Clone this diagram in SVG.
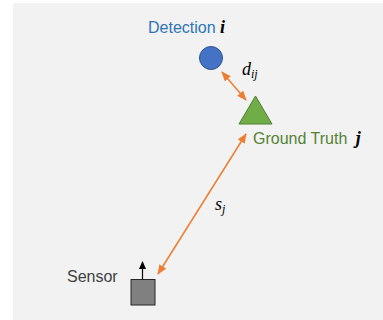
<svg xmlns="http://www.w3.org/2000/svg" width="383" height="320" viewBox="0 0 383 320">
  <style>
    .lbl { font-family: "Liberation Sans", Arial, sans-serif; font-size: 16px; }
    .math { font-family: "Liberation Serif", "Times New Roman", serif; font-style: italic; }
    .conn { stroke: #ed7d31; stroke-width: 1.5; fill: none; }
  </style>
  <defs>
    <marker id="orangeHead" markerUnits="userSpaceOnUse" markerWidth="10" markerHeight="8" refX="9" refY="4" orient="auto-start-reverse">
      <path d="M0,0 L10,4 L0,8 Z" fill="#ed7d31"/>
    </marker>
    <marker id="blackHead" markerUnits="userSpaceOnUse" markerWidth="8" markerHeight="7" refX="7" refY="3.5" orient="auto">
      <path d="M0,0 L8,3.5 L0,7 Z" fill="#000"/>
    </marker>
  </defs>

  <!-- canvas -->
  <rect x="13" y="3" width="370" height="317" fill="#f2f2f2"/>

  <!-- connectors -->
  <g id="connectors">
    <line class="conn" x1="222" y1="72" x2="246" y2="100" marker-start="url(#orangeHead)" marker-end="url(#orangeHead)"/>
    <line class="conn" x1="246" y1="134" x2="158" y2="274" marker-start="url(#orangeHead)" marker-end="url(#orangeHead)"/>
    <text class="math" x="242" y="75" font-size="18" fill="#000">d<tspan font-size="12" dy="3">ij</tspan></text>
    <text class="math" x="215" y="210" font-size="18" fill="#000">s<tspan font-size="12" dy="3">j</tspan></text>
  </g>

  <!-- detection node -->
  <g id="detection">
    <circle cx="211" cy="58" r="11.5" fill="#4472c4" stroke="#2f528f" stroke-width="1"/>
    <text class="lbl" x="148" y="33" fill="#2e75b6">Detection <tspan class="math" font-weight="bold" font-size="18" fill="#000">i</tspan></text>
  </g>

  <!-- ground truth node -->
  <g id="ground-truth">
    <polygon points="255.5,96 239,124 272,124" fill="#70ad47" stroke="#507e32" stroke-width="1"/>
    <text class="lbl" x="253" y="144" fill="#548235">Ground Truth <tspan class="math" font-weight="bold" font-size="18" fill="#000" dx="4">j</tspan></text>
  </g>

  <!-- sensor node -->
  <g id="sensor">
    <rect x="131" y="279.5" width="24" height="25.5" fill="#808080" stroke="#262626" stroke-width="1"/>
    <line x1="142.5" y1="279" x2="142.5" y2="262" stroke="#000" stroke-width="1.2" marker-end="url(#blackHead)"/>
    <text class="lbl" x="67" y="282" fill="#404040">Sensor</text>
  </g>
</svg>
